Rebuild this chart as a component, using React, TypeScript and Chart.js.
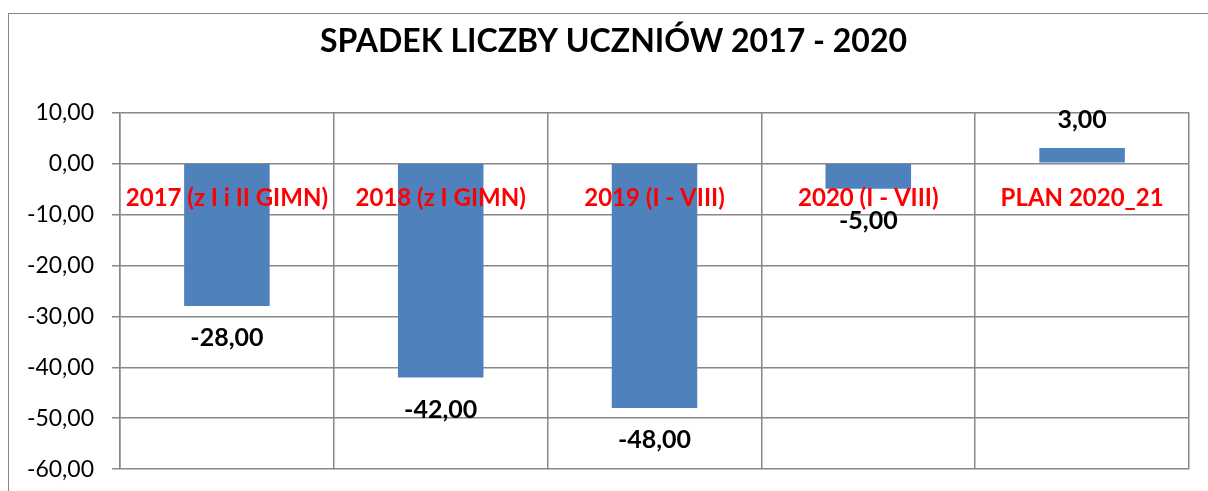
import React, { useEffect, useRef } from "react";
import { Chart, registerables } from "chart.js";

Chart.register(...registerables);

const TITLE = "SPADEK LICZBY UCZNIÓW 2017 - 2020";
const categories = [
  "2017 (z I i II GIMN)",
  "2018 (z I GIMN)",
  "2019 (I - VIII)",
  "2020 (I - VIII)",
  "PLAN 2020_21",
];
const values = [-28, -42, -48, -5, 3];
const yMin = -60;
const yMax = 10;
const yStep = 10;

const FONT = "Lato, 'Open Sans', sans-serif";
const fmt = (v: number) => v.toFixed(2).replace(".", ",");

const dataLabelPlugin = {
  id: "dataLabelPlugin",
  afterLayout(chart: any) {
    // centre the title slightly right of the canvas centre, as in the reference
    const tb = chart.titleBlock;
    if (tb) {
      tb.left = 29;
    }
  },
  afterDatasetsDraw(chart: any) {
    const ctx = chart.ctx;
    const meta = chart.getDatasetMeta(0);
    const data = chart.data.datasets[0].data as number[];
    ctx.save();
    ctx.font = `bold 25px ${FONT}`;
    ctx.fillStyle = "#000000";
    ctx.textAlign = "center";
    ctx.textBaseline = "middle";
    meta.data.forEach((bar: any, i: number) => {
      const v = data[i];
      const y = v < 0 ? bar.y + 32 : bar.y - 28;
      ctx.fillText(fmt(v), bar.x, y);
    });
    ctx.restore();
  },
};

export default function App() {
  const canvasRef = useRef<HTMLCanvasElement | null>(null);

  useEffect(() => {
    if (!canvasRef.current) return;
    const chart = new Chart(canvasRef.current, {
      type: "bar",
      data: {
        labels: categories,
        datasets: [
          {
            data: values,
            backgroundColor: "#4F81BD",
            borderWidth: 0,
            barPercentage: 0.4,
            categoryPercentage: 1,
          },
        ],
      },
      options: {
        animation: false,
        responsive: true,
        maintainAspectRatio: false,
        layout: { padding: { left: 0, right: 19, top: 0, bottom: 0 } },
        plugins: {
          legend: { display: false },
          tooltip: { enabled: false },
          title: {
            display: true,
            text: TITLE,
            color: "#000000",
            font: { family: FONT, size: 32, weight: "bold" },
            padding: { top: 8, bottom: 52 },
          },
        },
        scales: {
          x: {
            position: { y: 0 } as any,
            grid: {
              display: true,
              drawTicks: false,
              color: "#888888",
              lineWidth: 1.5,
              offset: true,
            },
            border: { display: false },
            ticks: {
              z: 1,
              color: "#FF0000",
              font: { family: FONT, size: 24, weight: "bold" },
              padding: 20,
              maxRotation: 0,
              autoSkip: false,
            },
          },
          y: {
            min: yMin,
            max: yMax,
            afterFit: (scale: any) => {
              scale.width = 111;
            },
            grid: {
              color: "#888888",
              lineWidth: 1.5,
              drawTicks: true,
              tickLength: 8,
            },
            border: { display: true, color: "#888888", width: 1.5 },
            ticks: {
              stepSize: yStep,
              color: "#000000",
              font: { family: FONT, size: 23 },
              padding: 18,
              callback: (v: any) => fmt(Number(v)),
            },
          },
        },
      },
      plugins: [dataLabelPlugin],
    });
    return () => chart.destroy();
  }, []);

  return (
    <div
      style={{
        position: "fixed",
        left: 8,
        top: 13,
        width: 1200,
        height: 488,
        boxSizing: "border-box",
        borderLeft: "1px solid #868686",
        borderTop: "1px solid #868686",
        background: "#ffffff",
      }}
    >
      <div style={{ position: "relative", width: 1199, height: 487 }}>
        <canvas ref={canvasRef} />
      </div>
    </div>
  );
}
